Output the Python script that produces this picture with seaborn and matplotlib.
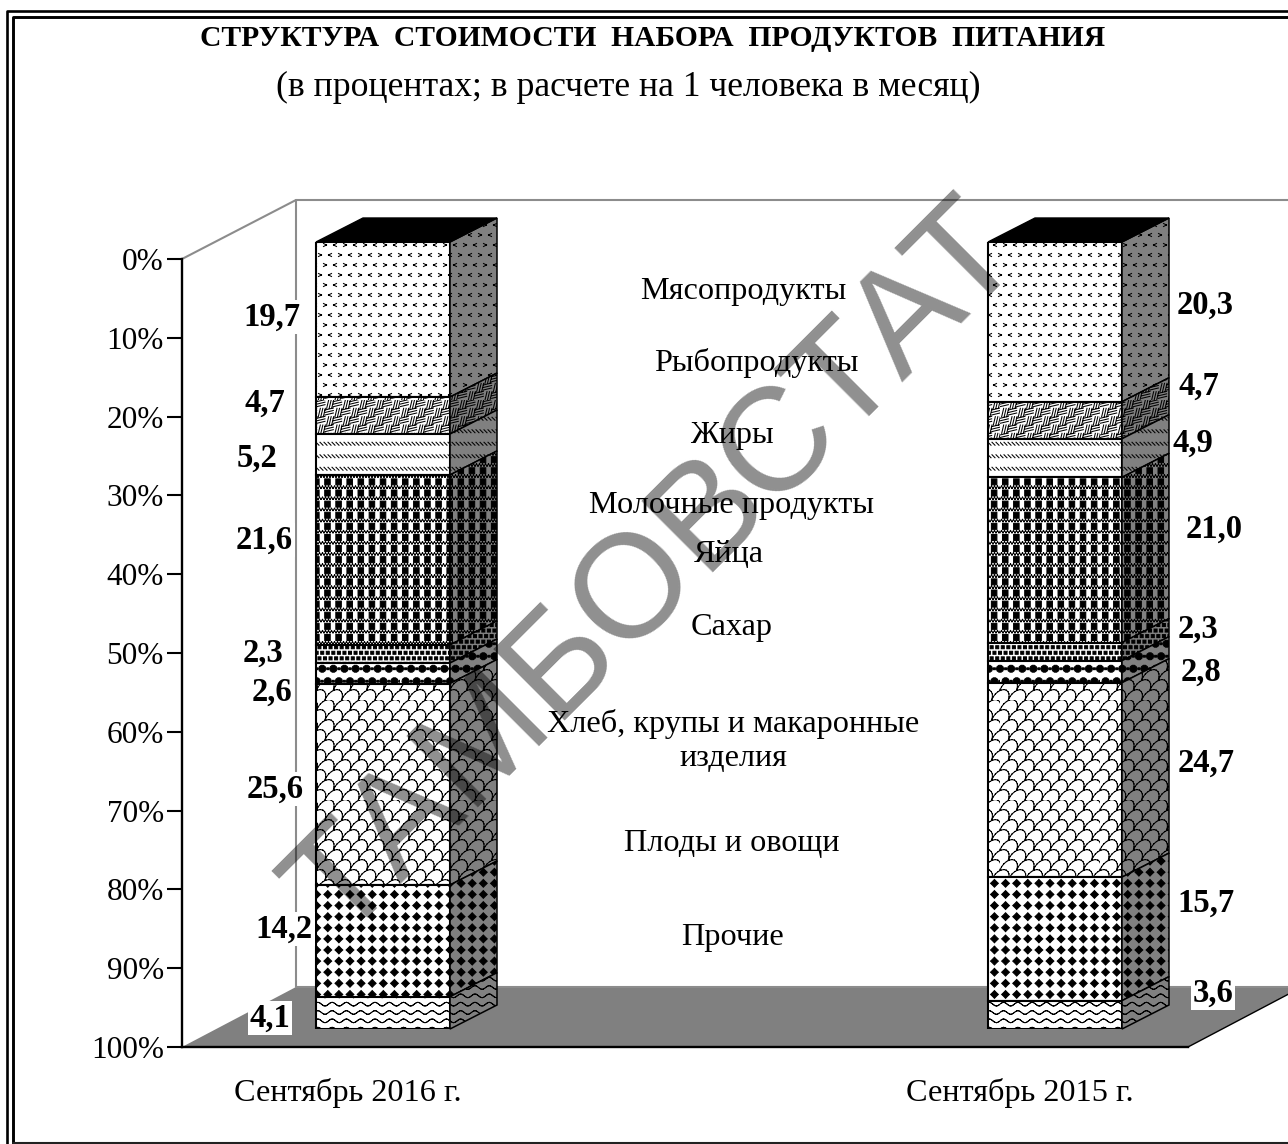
# Stacked "3D" columns: cost structure of the food basket
import warnings
import numpy as np
import matplotlib
matplotlib.use("Agg")
import matplotlib.pyplot as plt
import matplotlib.hatch as mhatch
from matplotlib.path import Path
import seaborn as sns

warnings.filterwarnings("ignore")

months = ["Сентябрь 2016 г.", "Сентябрь 2015 г."]
products = ["Мясопродукты", "Рыбопродукты", "Жиры", "Молочные продукты", "Яйца",
            "Сахар", "Хлеб, крупы и макаронные\nизделия", "Плоды и овощи", "Прочие"]
share_2016 = [19.7, 4.7, 5.2, 21.6, 2.3, 2.6, 25.6, 14.2, 4.1]
share_2015 = [20.3, 4.7, 4.9, 21.0, 2.3, 2.8, 24.7, 15.7, 3.6]
pct_ticks = [0, 10, 20, 30, 40, 50, 60, 70, 80, 90, 100]

title = "СТРУКТУРА  СТОИМОСТИ  НАБОРА  ПРОДУКТОВ  ПИТАНИЯ"
subtitle = "(в процентах; в расчете на 1 человека в месяц)"
watermark = "ТАМБОВСТАТ"

# where the text sits, in picture pixels
product_pos = [(743, 291), (756, 363), (732, 435), (732, 505), (729, 554),
               (732, 627), (733, 741), (732, 843), (733, 938)]
pos_2016 = [(272, 317), (265, 403), (257, 458), (264, 540), (263, 653),
            (272, 692), (275, 789), (284, 929), (270, 1018)]
pos_2015 = [(1205, 305), (1199, 386), (1193, 443), (1214, 529), (1198, 629),
            (1201, 672), (1206, 763), (1206, 903), (1213, 993)]


# ---- custom fill patterns, one tile is 100 px at dpi 100
def lines(*pts):
    # split in two point pieces so agg does not fill them
    out = []
    for a, b in zip(pts[:-1], pts[1:]):
        out.append(([a, b], [Path.MOVETO, Path.LINETO]))
    return out


def poly(*pts):
    return [(list(pts) + [pts[0]], [Path.MOVETO] + [Path.LINETO] * (len(pts) - 1) + [Path.CLOSEPOLY])]


def ball(x, y, r, n=10):
    return poly(*[(x + r * np.cos(a), y + r * np.sin(a)) for a in np.arange(n) * 2 * np.pi / n])


def square(x, y, r):
    return poly((x - r, y - r), (x + r, y - r), (x + r, y + r), (x - r, y + r))


def tile_a():
    s = []
    for j in range(10):
        for i in range(11):
            x = (i + (j % 2) / 2) * 10
            y = (j + 0.5) * 10
            sign = 1 if i % 2 else -1
            s += lines((x + sign * 1.5, y + 1.5), (x - sign * 1.5, y), (x + sign * 1.5, y - 1.5))
    return s


def tile_b():
    s = []
    c = 100 / 12
    for j in range(12):
        for i in range(12):
            x, y = i * c, j * c
            for k in (0.2, 0.5, 0.8):
                if (i + j) % 2:
                    s += lines((x, y + k * c), (x + c, y + k * c + 2))
                else:
                    s += lines((x + k * c, y), (x + k * c + 2, y + c))
    return s


def tile_c():
    s = []
    for j in range(8):
        for i in range(25):
            y = (j + 0.5) * 12.5
            s += lines((i * 4, y + 1.5), (i * 4 + 3, y - 1.5))
    return s


def tile_d():
    s = []
    for j in range(9):
        y = j * 100 / 9
        for i in range(9):
            s += poly((i * 100 / 9 + 2.5, y + 4), (i * 100 / 9 + 8, y + 4),
                      (i * 100 / 9 + 8, y + 10), (i * 100 / 9 + 2.5, y + 10))
        for i in range(34):
            s += lines((i * 3, y + 0.5), (i * 3 + 1.5, y + 2.8), (i * 3 + 3, y + 0.5))
    return s


def tile_e():
    s = []
    for j in range(18):
        for i in range(19):
            s += square((i + (j % 2) / 2) * 100 / 18, (j + 0.5) * 100 / 18, 1.5)
    return s


def tile_f():
    s = []
    for j in range(8):
        for i in range(10):
            x = (i + (j % 2) / 2) * 100 / 9
            y = (j + 0.5) * 12.5
            s += ball(x, y, 3.6)
            s += square(x + 50 / 9, y, 0.9)
    return s


def tile_g():
    s = []
    a = np.linspace(0, np.pi, 11)
    r = 100 / 12
    for j in range(11):
        for i in range(8):
            x = (i + (j % 2) / 2) * 100 / 6
            y = j * 10
            s += lines(*[(x + r * np.cos(t) + 0.45 * r * np.sin(t), y + r * np.sin(t) * 1.25) for t in a])
    return s


def tile_h():
    s = []
    for j in range(9):
        for i in range(9):
            x = (i + 0.5) * 100 / 9
            y = (j + 0.5) * 100 / 9
            s += poly((x - 3.9, y), (x - 1.9, y + 1.9), (x, y + 3.9), (x + 1.9, y + 1.9),
                      (x + 3.9, y), (x + 1.9, y - 1.9), (x, y - 3.9), (x - 1.9, y - 1.9))
    return s


def tile_i():
    s = []
    t = np.linspace(0, 100, 85)
    for j in range(12):
        y = (j + 0.5) * 100 / 12
        s += lines(*[(v, y + 1.8 * np.sin(v * 2 * np.pi * 7 / 100)) for v in t])
    return s


class TileHatch(mhatch.HatchPatternBase):
    pieces = {}

    def __init__(self, hatch, density):
        self.char = next((c for c in hatch if c in self.pieces), None)
        self.num_vertices = sum(len(p[0]) for p in self.pieces[self.char]) if self.char else 0

    def set_vertices_and_codes(self, vertices, codes):
        n = 0
        for pts, cds in self.pieces[self.char]:
            vertices[n:n + len(pts)] = np.array(pts) / 100
            codes[n:n + len(pts)] = cds
            n += len(pts)


TileHatch.pieces = {"a": tile_a(), "b": tile_b(), "c": tile_c(), "d": tile_d(), "e": tile_e(),
                    "f": tile_f(), "g": tile_g(), "h": tile_h(), "i": tile_i()}
mhatch._hatch_types.append(TileHatch)
fills = list("abcdefghi")

# ---- figure
sns.set_style("white")
plt.rcParams["font.family"] = ["Liberation Serif", "DejaVu Serif"]
plt.rcParams["hatch.linewidth"] = 0.75

W, H = 1288, 1144
fig = plt.figure(figsize=(W / 100, H / 100), dpi=100, facecolor="white")


def px_axes(left, top, right, bottom, z):
    a = fig.add_axes([left / W, 1 - bottom / H, (right - left) / W, (bottom - top) / H], zorder=z)
    a.patch.set_alpha(0)
    return a


# walls, floor and page frame
bg = px_axes(0, 0, W, H, 0)
bg.set_xlim(0, W)
bg.set_ylim(H, 0)
bg.axis("off")
bg.fill([182, 296, 1302, 1188], [1047, 987, 987, 1047], facecolor="#808080", edgecolor="none")
bg.plot([1188, 1302], [1047, 987], color="black", lw=1)
bg.plot([182, 296, W], [259, 200, 200], color="#8c8c8c", lw=1.5)
bg.plot([296, 296, W], [200, 987, 987], color="#8c8c8c", lw=1.5)
bg.plot([7.5, 7.5, W], [H, 11, 11], color="black", lw=1.9, solid_capstyle="butt")
bg.plot([13, 13, W], [H, 16.5, 16.5], color="black", lw=2.1, solid_capstyle="butt")
bg.plot([13, W], [1143, 1143], color="#222222", lw=1.5)

# axis lines and percent ticks, front plane of the box
unit = 672.0
ax_t = px_axes(182, 259, 1188, 1047, 1)
ax_t.set_xlim((182 - 348) / unit, (1188 - 348) / unit)
ax_t.set_ylim(100, 0)
ax_t.set_yticks(pct_ticks)
ax_t.set_yticklabels([f"{t}%" for t in pct_ticks], fontsize=22.5)
ax_t.set_xticks(range(len(months)))
ax_t.set_xticklabels(months, fontsize=23.2)
ax_t.tick_params(axis="y", left=True, length=11, width=1.5, pad=2, color="black", labelcolor="black")
ax_t.tick_params(axis="x", bottom=False, pad=19, labelcolor="black")
ax_t.grid(False)
sns.despine(ax=ax_t, top=True, right=True)
for side in ("left", "bottom"):
    ax_t.spines[side].set_color("black")
    ax_t.spines[side].set_linewidth(1.7)

# the stacked columns
ax = px_axes(182, 242, 1188, 1029, 2)
bottoms = np.zeros(len(months))
depth_x = 47 / unit
depth_y = -24 / 7.87
for k in range(len(products)):
    vals = np.array([share_2016[k], share_2015[k]])
    sns.barplot(x=months, y=vals, bottom=bottoms, color="white", saturation=1, width=134 / unit,
                edgecolor="black", linewidth=1.5, hatch=fills[k], ax=ax)
    for rect in ax.containers[-1]:
        xr = rect.get_x() + rect.get_width()
        y0, y1 = rect.get_y(), rect.get_y() + rect.get_height()
        ax.fill([xr, xr + depth_x, xr + depth_x, xr], [y0, y0 + depth_y, y1 + depth_y, y1],
                facecolor="#808080", edgecolor="black", linewidth=1.1, hatch=fills[k], clip_on=False)
        if k == 0:
            xl = rect.get_x()
            ax.fill([xl, xr, xr + depth_x, xl + depth_x], [y0, y0, y0 + depth_y, y0 + depth_y],
                    facecolor="black", edgecolor="black", clip_on=False)
    bottoms = bottoms + vals
ax.set_xlim((182 - 383) / unit, (1188 - 383) / unit)
ax.set_ylim(100, 0)
ax.axis("off")

# all the text on top
top = px_axes(0, 0, W, H, 3)
top.set_xlim(0, W)
top.set_ylim(H, 0)
top.axis("off")
top.text(653, 39, title, ha="center", va="center", fontsize=21.3, fontweight="bold", color="black")
top.text(628, 87, subtitle, ha="center", va="center", fontsize=25.7, color="black")
for name, (x, y) in zip(products, product_pos):
    top.text(x, y, name, ha="center", va="center", fontsize=23.2, color="black", linespacing=1.22)
for vals, where in [(share_2016, pos_2016), (share_2015, pos_2015)]:
    for v, (x, y) in zip(vals, where):
        top.text(x, y, f"{v:.1f}".replace(".", ","), ha="center", va="center", fontsize=23.5,
                 fontweight="bold", color="black",
                 bbox=dict(facecolor="white", edgecolor="none", pad=1.5))
top.text(657, 572, watermark, ha="center", va="center", rotation=45, rotation_mode="anchor",
         family="Liberation Sans", fontsize=106, color="black", alpha=0.44)

fig.savefig("out.png", dpi=100)
